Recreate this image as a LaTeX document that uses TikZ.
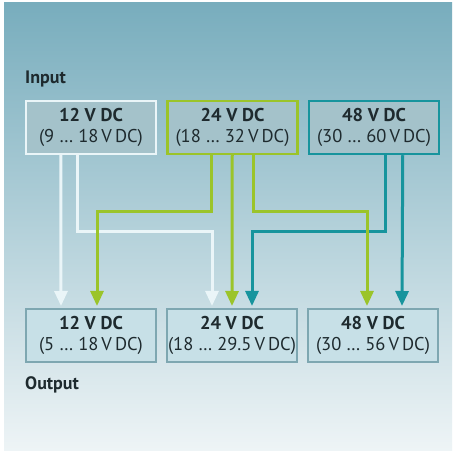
\documentclass[tikz,border=0pt]{standalone}
\usepackage{fontspec}
\setmainfont{PT Sans}
\usetikzlibrary{positioning,arrows.meta}
\definecolor{bgtop}{HTML}{78ADBD}
\definecolor{bgmid}{HTML}{ABCBD4}
\definecolor{bgbot}{HTML}{EEF4F6}
\definecolor{inkdark}{HTML}{1E2A2E}
\definecolor{wirewhite}{HTML}{EAF5F8}
\definecolor{wiregreen}{HTML}{9BC42A}
\definecolor{wireteal}{HTML}{17949D}
\definecolor{outfill}{HTML}{C7E0E7}
\definecolor{outline}{HTML}{7EA7B1}
\definecolor{infill}{HTML}{A4C2CA}
\tikzset{
  voltbox/.style={minimum width=130pt, minimum height=53pt, inner sep=0pt,
    align=center, text=inkdark, font=\fontsize{18.5}{21}\selectfont},
  inbox/.style={voltbox, draw=#1, line width=2.5pt, fill=infill},
  outbox/.style={voltbox, draw=outline, line width=2pt, fill=outfill},
  sidelabel/.style={anchor=base west, inner sep=0pt, text=inkdark,
    font=\fontsize{18}{20}\selectfont\bfseries},
  wire/.style={line width=3pt, draw=#1, shorten >=2pt,
    -{Triangle[width=13pt, length=15pt]}},
}
\begin{document}
\begin{tikzpicture}[x=1pt, y=-1pt]
    \useasboundingbox (0,0) rectangle (456,454);
    \fill[white] (0,0) rectangle (456,454);
    \shade[top color=bgtop, middle color=bgmid, bottom color=bgbot] (4,3) rectangle (452,451);
    % input side
    \node[sidelabel] (input) at (25,84) {Input};
    \node[inbox=wirewhite] (in1) at (91,127.5) {{\bfseries 12 V DC}\\(9 \dots\ 18\,V\,DC)};
    \node[inbox=wiregreen, right=9pt of in1] (in2) {{\bfseries 24 V DC}\\(18 \dots\ 32\,V\,DC)};
    \node[inbox=wireteal, right=9pt of in2] (in3) {{\bfseries 48 V DC}\\(30 \dots\ 60\,V\,DC)};
    % output side
    \node[outbox] (out1) at (91,335.5) {{\bfseries 12 V DC}\\(5 \dots\ 18\,V\,DC)};
    \node[outbox, right=9pt of out1] (out2) {{\bfseries 24 V DC}\\(18 \dots\ 29.5\,V\,DC)};
    \node[outbox, right=9pt of out2] (out3) {{\bfseries 48 V DC}\\(30 \dots\ 56\,V\,DC)};
    \node[sidelabel] (output) at (25,390) {Output};
    % turn levels
    \coordinate (upper) at (0,212);
    \coordinate (lower) at (0,232);
    % wire ends
    \coordinate (w1s) at ([xshift=36pt]in1.south west);
    \coordinate (w1e) at ([xshift=36pt]out1.north west);
    \coordinate (w2s) at ([xshift=53pt]in1.south west);
    \coordinate (w2e) at ([xshift=46pt]out2.north west);
    \coordinate (g1s) at ([xshift=45pt]in2.south west);
    \coordinate (g1e) at ([xshift=72pt]out1.north west);
    \coordinate (g2s) at ([xshift=66pt]in2.south west);
    \coordinate (g2e) at ([xshift=66pt]out2.north west);
    \coordinate (g3s) at ([xshift=87pt]in2.south west);
    \coordinate (g3e) at ([xshift=60pt]out3.north west);
    \coordinate (t1s) at ([xshift=78pt]in3.south west);
    \coordinate (t1e) at ([xshift=86pt]out2.north west);
    \coordinate (t2s) at ([xshift=95pt]in3.south west);
    \coordinate (t2e) at ([xshift=95pt]out3.north west);
    % wires
    \draw[wire=wirewhite] (w1s) -- (w1e);
    \draw[wire=wirewhite] (w2s) -- (w2s |- lower) -| (w2e);
    \draw[wire=wireteal] (t1s) -- (t1s |- lower) -| (t1e);
    \draw[wire=wireteal] (t2s) -- (t2e);
    \draw[wire=wiregreen] (g1s) -- (g1s |- upper) -| (g1e);
    \draw[wire=wiregreen] (g2s) -- (g2e);
    \draw[wire=wiregreen] (g3s) -- (g3s |- upper) -| (g3e);
\end{tikzpicture}
\end{document}
